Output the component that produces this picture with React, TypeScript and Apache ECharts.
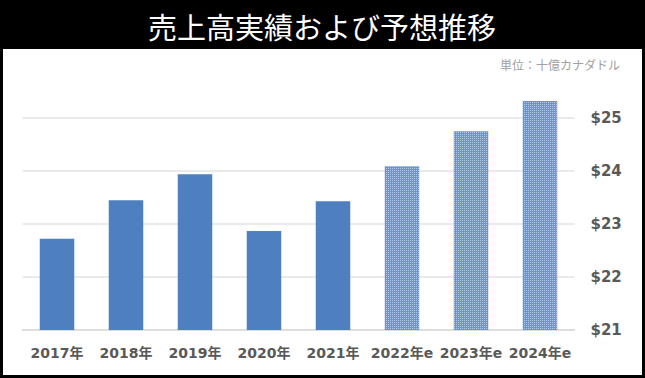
import React, { useEffect, useRef } from "react";
import * as echarts from "echarts";

const categories = ["2017年", "2018年", "2019年", "2020年", "2021年", "2022年e", "2023年e", "2024年e"];
const actualValues = [22.72, 23.45, 23.94, 22.87, 23.43, null, null, null];
const forecastValues = [null, null, null, null, null, 24.09, 24.75, 25.32];
const titleText = "売上高実績および予想推移";
const unitText = "単位：十億カナダドル";

export default function App() {
  const ref = useRef<HTMLDivElement>(null);
  useEffect(() => {
    const chart = echarts.init(ref.current!, null, { renderer: "svg" });
    const font = "'Noto Sans CJK JP', 'Noto Sans', sans-serif";
    const labelFont = "'DejaVu Sans', 'Noto Sans CJK JP', sans-serif";
    chart.setOption({
      animation: false,
      backgroundColor: "#000",
      graphic: [
        { type: "rect", shape: { x: 3, y: 49, width: 639, height: 326 }, style: { fill: "#fff" }, z: -10 },
        {
          type: "text", x: 322, y: 26,
          style: { text: titleText, fill: "#fff", font: `29px ${font}`, align: "center", verticalAlign: "middle" },
        },
        {
          type: "text", x: 620, y: 64,
          style: { text: unitText, fill: "#a0a0a0", font: `12px ${font}`, align: "right", verticalAlign: "middle" },
        },
      ],
      grid: { left: 22.5, right: 70.5, top: 91.5, bottom: 48 },
      xAxis: {
        type: "category",
        data: categories,
        axisLine: { lineStyle: { color: "#d9d9d9", width: 1.5 } },
        axisTick: { show: false },
        axisLabel: { color: "#595959", fontWeight: "bold", fontSize: 14, fontFamily: labelFont, margin: 16, interval: 0 },
      },
      yAxis: {
        type: "value",
        position: "right",
        min: 21,
        max: 25.5,
        interval: 1,
        axisLine: { show: false },
        axisTick: { show: false },
        splitLine: { lineStyle: { color: "#e3e3e3", width: 1.5 }, showMaxLine: false },
        axisLabel: {
          color: "#595959", fontWeight: "bold", fontSize: 15, fontFamily: labelFont, margin: 16,
          formatter: (v: number) => (Number.isInteger(v) ? "$" + v : ""),
          showMaxLabel: false,
        },
      },
      series: [
        {
          type: "bar",
          data: actualValues,
          barWidth: "50%",
          stack: "s",
          itemStyle: { color: "#4e80c0" },
        },
        {
          type: "bar",
          data: forecastValues,
          barWidth: "50%",
          stack: "s",
          itemStyle: {
            color: "#6795d3",
            decal: {
              symbol: "rect",
              symbolSize: 1,
              dashArrayX: [1, 1],
              dashArrayY: [1, 1],
              color: "rgba(255,255,255,0.5)",
              rotation: 0,
            },
          },
        },
      ],
    });
    return () => chart.dispose();
  }, []);
  return <div ref={ref} style={{ position: "fixed", left: 0, top: 0, width: 645, height: 378 }} />;
}
